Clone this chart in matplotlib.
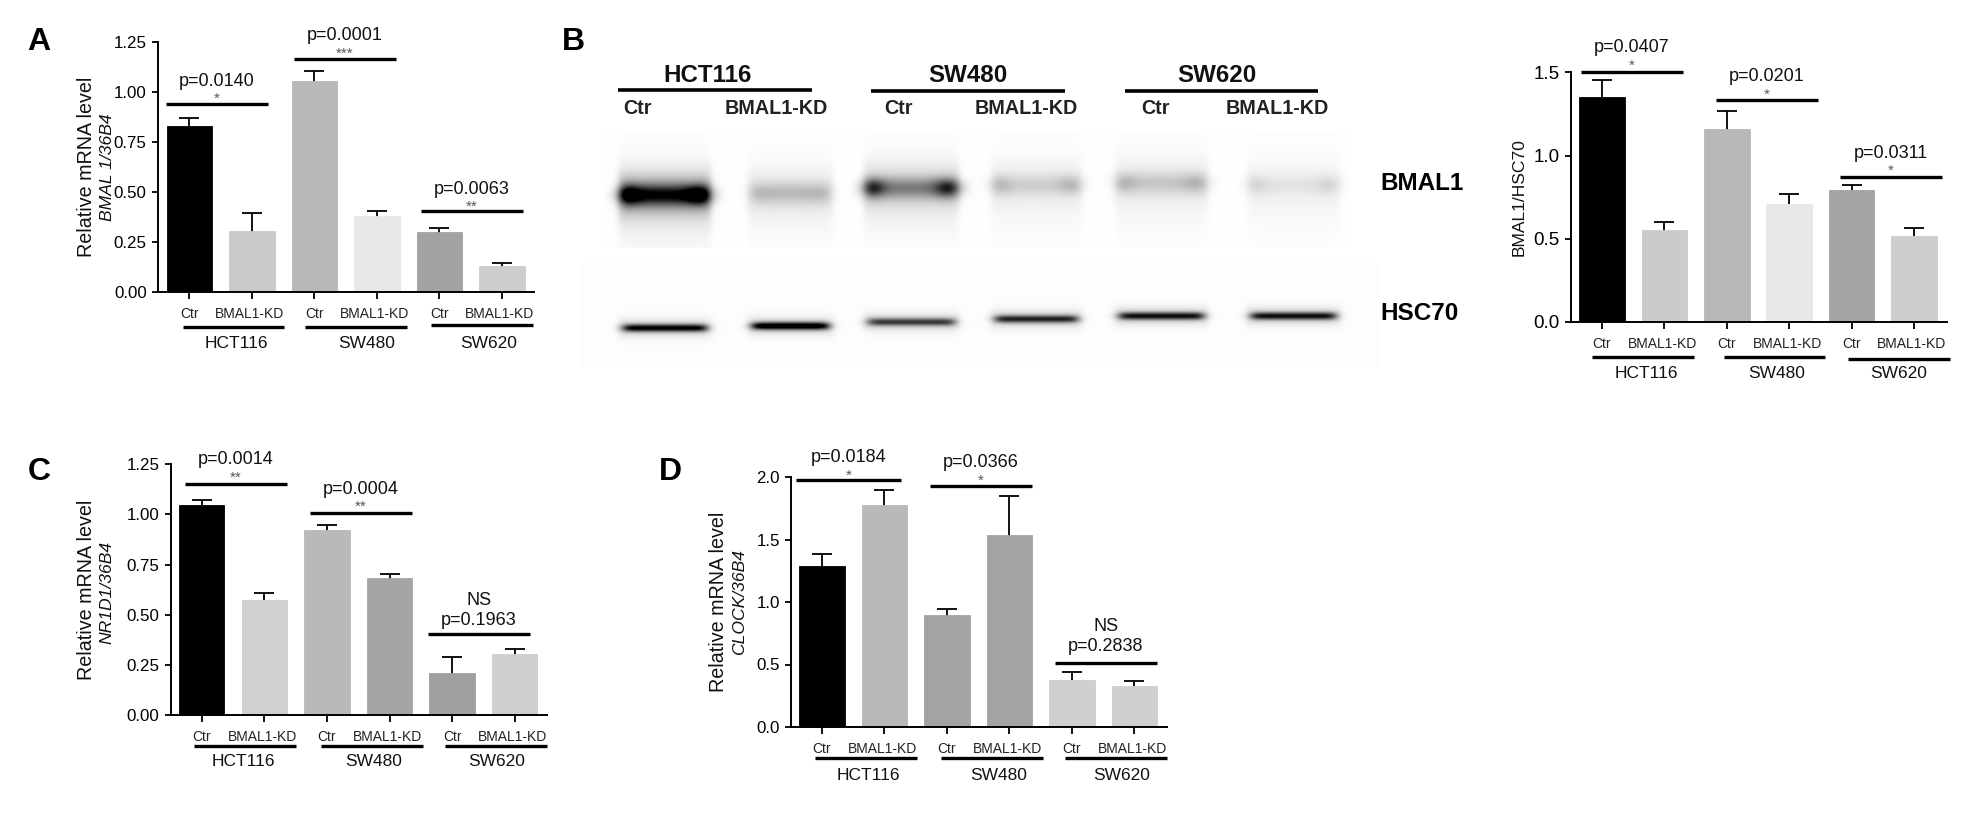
"""Four bar panels and a western blot: BMAL1 knockdown in colon cancer lines."""

import matplotlib

matplotlib.use("Agg")
import matplotlib.pyplot as plt
import numpy as np
from matplotlib.transforms import ScaledTranslation

plt.rcParams["font.family"] = ["Liberation Sans", "DejaVu Sans"]

W, H = 1975, 815
BAR_LABELS = ["Ctr", "BMAL1-KD", "Ctr", "BMAL1-KD", "Ctr", "BMAL1-KD"]
CELL_LINES = ["HCT116", "SW480", "SW620"]

# Panel A
a_means = [0.832, 0.307, 1.057, 0.382, 0.300, 0.132]
a_errs = [0.040, 0.091, 0.048, 0.023, 0.022, 0.013]
a_colors = ["#000000", "#c9c9c9", "#b8b8b8", "#e8e8e8", "#a2a2a2", "#cdcdcd"]
a_yticks = [0, 0.25, 0.5, 0.75, 1.0, 1.25]
a_pvalues = ["p=0.0140", "p=0.0001", "p=0.0063"]
a_stars = ["*", "***", "**"]

# Panel B, densitometry
b_means = [1.354, 0.552, 1.160, 0.710, 0.792, 0.514]
b_errs = [0.100, 0.050, 0.108, 0.056, 0.028, 0.052]
b_colors = ["#000000", "#cbcbcb", "#b8b8b8", "#e8e8e8", "#a3a3a3", "#cdcdcd"]
b_yticks = [0, 0.5, 1.0, 1.5]
b_pvalues = ["p=0.0407", "p=0.0201", "p=0.0311"]
b_stars = ["*", "*", "*"]

# Panel C
c_means = [1.046, 0.572, 0.922, 0.685, 0.209, 0.304]
c_errs = [0.026, 0.036, 0.027, 0.016, 0.079, 0.025]
c_colors = ["#000000", "#d0d0d0", "#b9b9b9", "#a5a5a5", "#a0a0a0", "#cfcfcf"]
c_yticks = [0, 0.25, 0.5, 0.75, 1.0, 1.25]
c_pvalues = ["p=0.0014", "p=0.0004", "NS\np=0.1963"]
c_stars = ["**", "**", ""]

# Panel D
d_means = [1.285, 1.776, 0.896, 1.536, 0.376, 0.325]
d_errs = [0.096, 0.124, 0.048, 0.314, 0.061, 0.043]
d_colors = ["#000000", "#b9b9b9", "#a3a3a3", "#a3a3a3", "#cfcfcf", "#cfcfcf"]
d_yticks = [0, 0.5, 1.0, 1.5, 2.0]
d_pvalues = ["p=0.0184", "p=0.0366", "NS\np=0.2838"]
d_stars = ["*", "*", ""]

# Blot lanes: left edge, right edge, band centre for BMAL1 and HSC70, strengths
lane_left = [619, 748, 864, 991, 1115, 1247]
lane_right = [711, 833, 959, 1082, 1208, 1340]
bmal_center = [195, 193, 188, 185, 183, 185]
bmal_strength = [0.62, 0.15, 0.30, 0.10, 0.12, 0.05]
bmal_edge = [0.40, 0.02, 0.42, 0.10, 0.09, 0.06]
hsc_center = [328, 326, 322, 319, 316, 316]
hsc_strength = [0.88, 1.0, 0.62, 0.72, 0.80, 0.80]


def format_ytick(value: float, ticks: list) -> str:
    decimals = 2 if len(ticks) == 6 else 1
    return f"{value:.{decimals}f}"


def draw_panel(fig, box, means, errs, colors, yticks, tick_size=12.2) -> None:
    """Draw one bar chart. box = left, right, top, bottom, first tick and tick spacing in pixels."""
    left, right, top, bottom, tick0, step = box
    ax = fig.add_axes([left / W, 1 - bottom / H, (right - left) / W, (bottom - top) / H])
    x = np.arange(len(means))
    ax.errorbar(x, means, yerr=errs, fmt="none", ecolor="black", elinewidth=1.3, capsize=7.5, capthick=1.3, zorder=1)
    ax.bar(x, means, width=45.5 / step, color=colors, edgecolor=colors, linewidth=0.6, zorder=2)
    ax.set_xlim((left - tick0) / step, (right - tick0) / step)
    ax.set_ylim(0, yticks[-1])
    ax.set_yticks(yticks, [format_ytick(t, yticks) for t in yticks], fontsize=tick_size)
    ax.set_xticks(x, BAR_LABELS, fontsize=10, color="#222222")
    ax.tick_params(axis="y", length=4.6, width=1.3, pad=3.5)
    ax.tick_params(axis="x", length=5, width=1.3, pad=5.5)
    for i, label in enumerate(ax.get_xticklabels()):
        shift = -2 if i % 2 else 0
        label.set_transform(label.get_transform() + ScaledTranslation(shift / 72 * 0.72, 0, fig.dpi_scale_trans))
    ax.spines[["top", "right"]].set_visible(False)
    ax.spines[["left", "bottom"]].set_linewidth(1.4)
    ax.patch.set_alpha(0)


def draw_sig(overlay, lines, pvalues, stars, text_y, star_y, size=13) -> None:
    """Significance lines with p value and stars above them."""
    for (x0, x1, y), label, mark, ty, sy in zip(lines, pvalues, stars, text_y, star_y):
        overlay.plot([x0, x1], [y, y], color="black", lw=2.4, solid_capstyle="butt")
        center = (x0 + x1) / 2
        overlay.text(center, ty, label, ha="center", va="center", fontsize=size, linespacing=1.25, color="#111111")
        if mark:
            overlay.text(center, sy, mark, ha="center", va="center", fontsize=11, color="#555555")


def draw_groups(overlay, lines, name_x, name_y, size=12.5) -> None:
    """Cell line rules and names under the x axis."""
    for (x0, x1, y), name, nx in zip(lines, CELL_LINES, name_x):
        overlay.plot([x0, x1], [y, y], color="black", lw=2.4, solid_capstyle="butt")
        overlay.text(nx, name_y, name, ha="center", va="center", fontsize=size, color="#111111")


def draw_ylabels(overlay, x1, y1, text1, x2=None, y2=None, text2=None, size=14.2) -> None:
    overlay.text(x1, y1, text1, rotation=90, ha="center", va="center", fontsize=size, color="#111111")
    if text2:
        overlay.text(x2, y2, text2, rotation=90, ha="center", va="center", fontsize=12.6, style="italic", color="#111111")


def draw_blot(overlay) -> None:
    """Paint the blot as a grey image from the lane tables."""
    x0, x1, y0, y1 = 580, 1380, 132, 368
    xx, yy = np.meshgrid(np.arange(x0, x1) + 0.5, np.arange(y0, y1) + 0.5)
    dark = np.zeros_like(xx)
    dark[yy > 263] = 0.010
    dark[(yy < 248) & (xx > 605) & (xx < 1350)] = 0.004
    for i in range(len(lane_left)):
        a, b = lane_left[i], lane_right[i]
        span = (1 / (1 + np.exp((a - xx) / 2.0))) * (1 / (1 + np.exp((xx - b) / 2.0)))
        soft = (1 / (1 + np.exp((a + 5 - xx) / 3.0))) * (1 / (1 + np.exp((xx - b + 5) / 3.0)))
        yc = bmal_center[i]
        smear = np.where(yy < 248, np.exp(-(((yy - yc - 8) / 42.0) ** 2)) * 0.09 * (0.3 + bmal_strength[i]), 0)
        dark += span * smear
        dark += span * 0.55 * bmal_strength[i] * np.exp(-(((yy - yc) / 20.0) ** 2))
        dark += soft * bmal_strength[i] * np.exp(-(((yy - yc) / 10.0) ** 2))
        ends = np.exp(-(((xx - a - 8) / 12.0) ** 2)) + np.exp(-(((xx - b + 10) / 14.0) ** 2))
        dark += ends * bmal_edge[i] * np.exp(-(((yy - yc) / 9.0) ** 2))
        dark += soft * hsc_strength[i] * np.exp(-(((yy - hsc_center[i]) / 3.8) ** 2))
        dark += span * 0.16 * np.exp(-(((yy - hsc_center[i]) / 9.0) ** 2))
    overlay.imshow(1 - np.clip(dark, 0, 1), extent=(x0, x1, y1, y0), cmap="gray", vmin=0, vmax=1, aspect="auto", interpolation="bilinear", zorder=0)


def main() -> None:
    fig = plt.figure(figsize=(W / 100, H / 100), dpi=100)

    draw_panel(fig, (158, 534, 42.3, 292.3, 189.3, 62.5), a_means, a_errs, a_colors, a_yticks)
    draw_panel(fig, (1570.7, 1947, 72.3, 322, 1602, 62.4), b_means, b_errs, b_colors, b_yticks, tick_size=13.5)
    draw_panel(fig, (170.7, 546.5, 464.3, 715, 201.7, 62.6), c_means, c_errs, c_colors, c_yticks)
    draw_panel(fig, (791, 1167, 477, 727, 821.8, 62.5), d_means, d_errs, d_colors, d_yticks)

    # Everything outside the plot areas is placed in figure pixels
    overlay = fig.add_axes([0, 0, 1, 1], zorder=5)
    overlay.patch.set_alpha(0)
    overlay.axis("off")
    draw_blot(overlay)
    overlay.set_xlim(0, W)
    overlay.set_ylim(H, 0)

    for letter, x, y in [("A", 38.6, 42), ("B", 573, 42), ("C", 39.4, 472), ("D", 670, 472)]:
        overlay.text(x, y, letter, ha="center", va="center", fontsize=23, fontweight="bold")

    draw_ylabels(overlay, 86, 167, "Relative mRNA level", 107, 167, "BMAL 1/36B4")
    draw_sig(overlay, [(166, 268, 103.7), (293.5, 396, 59), (421, 523, 211)], a_pvalues, a_stars, [81, 35, 189], [99, 54, 207])
    draw_groups(overlay, [(182.5, 284, 327), (304.6, 407, 327), (431, 533, 325)], [236, 367, 489], 344)

    draw_ylabels(overlay, 1519, 197, "BMAL1/HSC70", size=12.6)
    draw_sig(overlay, [(1581, 1683, 71.7), (1716, 1818, 100), (1840, 1942, 176.7)], b_pvalues, b_stars, [47.7, 76.7, 153], [66, 95, 171])
    draw_groups(overlay, [(1592, 1694, 357), (1723.7, 1825, 357), (1848, 1950, 358.7)], [1646, 1776.7, 1899], 374)

    draw_ylabels(overlay, 86, 590, "Relative mRNA level", 107.4, 592.5, "NR1D1/36B4")
    draw_sig(overlay, [(185, 287, 484.3), (310, 412, 513), (427.5, 529.7, 634.3)], c_pvalues, c_stars, [459.3, 489.3, 610.5], [478, 507, 0])
    draw_groups(overlay, [(193.6, 295.8, 745.7), (321, 423, 745.7), (444.7, 547, 745.7)], [243.8, 374, 496.7], 762)

    draw_ylabels(overlay, 718, 601.7, "Relative mRNA level", 739.7, 602, "CLOCK/36B4")
    draw_sig(overlay, [(796, 900.6, 480.3), (929.7, 1032, 486.3), (1055, 1157, 662.7)], d_pvalues, d_stars, [458, 462.7, 636.7], [476, 481, 0])
    draw_groups(overlay, [(815, 916.7, 758), (941, 1043, 758), (1064.8, 1167, 758)], [868.5, 999, 1121.8], 775.3)

    # Blot labels
    for (x0, x1, y), name, nx in zip([(617.5, 812, 90), (871, 1065, 91), (1124.5, 1318, 91)], CELL_LINES, [708, 968, 1217]):
        overlay.plot([x0, x1], [y, y], color="black", lw=2.6, solid_capstyle="butt")
        overlay.text(nx, 75, name, ha="center", va="center", fontsize=17.4, fontweight="bold", color="#111111")
    for label, x in zip(BAR_LABELS, [637.5, 776.5, 898.6, 1026.5, 1155.7, 1277.7]):
        overlay.text(x, 108, label, ha="center", va="center", fontsize=14.2, fontweight="bold", color="#222222")
    overlay.text(1380, 184, "BMAL1", ha="left", va="center", fontsize=17.5, fontweight="bold")
    overlay.text(1380, 313, "HSC70", ha="left", va="center", fontsize=17.5, fontweight="bold")

    fig.savefig("out.png", dpi=100)


if __name__ == "__main__":
    main()
